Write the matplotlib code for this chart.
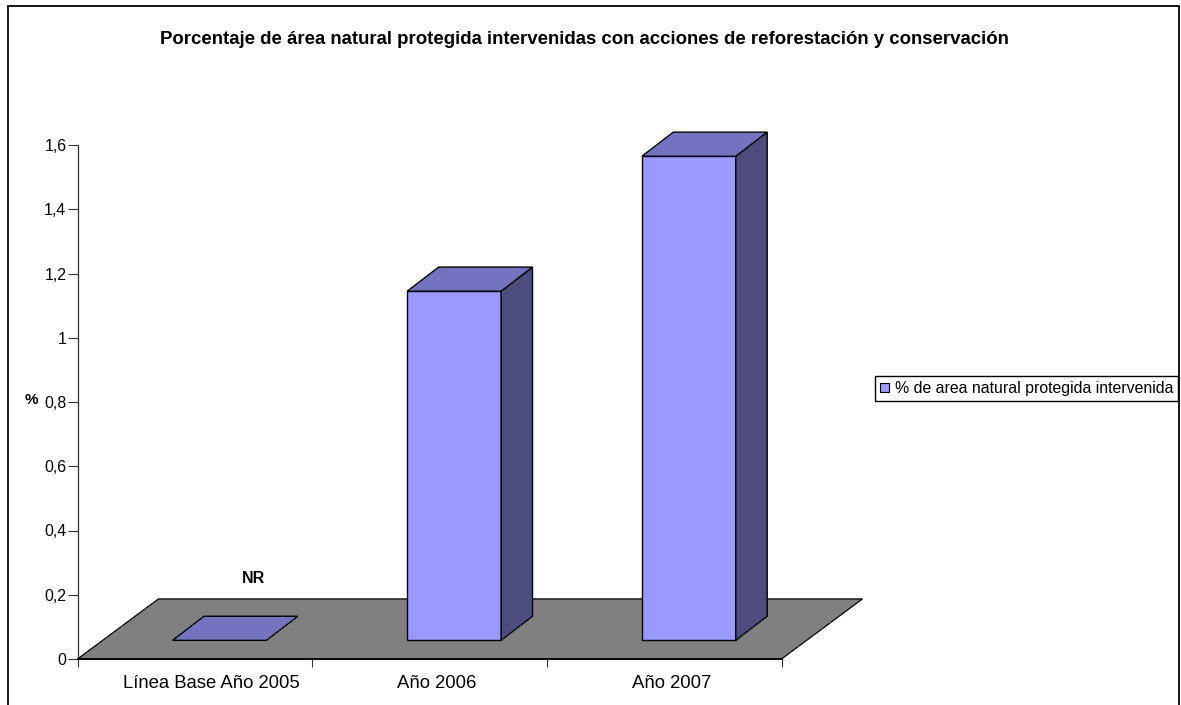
import matplotlib.pyplot as plt
from matplotlib.patches import Patch, Rectangle

plt.rcParams["font.family"] = ["Liberation Sans", "DejaVu Sans"]

categories = ["Línea Base Año 2005", "Año 2006", "Año 2007"]
values = [0, 1.087, 1.507]
bar_notes = ["NR", "", ""]
y_ticks = [0, 0.2, 0.4, 0.6, 0.8, 1, 1.2, 1.4, 1.6]
y_tick_labels = ["0", "0,2", "0,4", "0,6", "0,8", "1", "1,2", "1,4", "1,6"]
title = "Porcentaje de área natural protegida intervenidas con acciones de reforestación y conservación"
legend_label = "% de area natural protegida intervenida"

W, H = 1181, 705
FRONT = "#9999ff"
TOP = "#7373bf"
SIDE = "#4d4d80"
FLOOR = "#808080"

fig = plt.figure(figsize=(W / 100, H / 100), dpi=100)
ax = fig.add_axes([77.5 / W, (H - 659) / H, 704 / W, 514 / H])
ax.set_xlim(0, 3)
ax.set_ylim(0, 1.6)

# outer chart frame, runs off the bottom of the image
fig.add_artist(Rectangle((8 / W, -0.05), 1170.5 / W, 1.05 - 5.5 / H, transform=fig.transFigure,
                         fill=False, edgecolor="black", linewidth=1.3))

# fake 3D depth, in data units
floor_dx, floor_dy = 0.345, 0.187
depth_dx, depth_dy = 0.134, 0.075
bar_x0, bar_y0 = 0.405, 0.058
bar_w = 0.4

ax.fill([0, 3, 3 + floor_dx, floor_dx], [0, 0, floor_dy, floor_dy], facecolor=FLOOR,
        edgecolor="black", linewidth=0.9, clip_on=False, zorder=1)

for i, v in enumerate(values):
    x0 = i + bar_x0
    x1 = x0 + bar_w
    y0 = bar_y0
    y1 = bar_y0 + v
    if v > 0:
        ax.bar(x0, v, width=bar_w, bottom=y0, align="edge", color=FRONT, edgecolor="black",
               linewidth=1, clip_on=False, zorder=3)
        ax.fill([x1, x1 + depth_dx, x1 + depth_dx, x1], [y0, y0 + depth_dy, y1 + depth_dy, y1],
                facecolor=SIDE, edgecolor="black", linewidth=1, clip_on=False, zorder=3)
    ax.fill([x0, x1, x1 + depth_dx, x0 + depth_dx], [y1, y1, y1 + depth_dy, y1 + depth_dy],
            facecolor=TOP, edgecolor="black", linewidth=1, clip_on=False, zorder=3)
    if bar_notes[i]:
        ax.text(i + 0.752, 0.25, bar_notes[i], ha="center", va="center", fontsize=11.5,
                fontweight="bold", color="black")

for s in ["top", "right"]:
    ax.spines[s].set_visible(False)
ax.spines["left"].set_linewidth(0.9)
ax.spines["left"].set_color("#333333")
ax.spines["bottom"].set_linewidth(1.2)
ax.spines["bottom"].set_zorder(5)

ax.set_yticks(y_ticks)
ax.set_yticklabels(y_tick_labels)
ax.set_xticks([0, 1, 2, 3])
ax.set_xticklabels([])
ax.tick_params(axis="y", length=7, width=0.8, labelsize=11.5, pad=1, color="#333333")
ax.tick_params(axis="x", length=6, width=0.8, color="#333333")

# the long first label sits a bit further right of its slot than the other two
label_shift = [0.571, 0.53, 0.53]
for i, c in enumerate(categories):
    ax.text(i + label_shift[i], -0.0765, c, ha="center", va="center", fontsize=13.3, color="black",
            clip_on=False)

fig.text(31.5 / W, 1 - 400.5 / H, "%", ha="center", va="center", fontsize=11, fontweight="bold")
fig.text(584 / W, 1 - 39.5 / H, title, ha="center", va="center", fontsize=13.42, fontweight="bold")

handle = Patch(facecolor=FRONT, edgecolor="black", linewidth=0.8)
fig.legend([handle], [legend_label], loc="center left",
           bbox_to_anchor=(875 / W, 1 - 388.5 / H), frameon=True, fancybox=False, edgecolor="black",
           framealpha=1, fontsize=11.42, handlelength=0.55, handleheight=0.55, handletextpad=0.36,
           borderpad=0.33, borderaxespad=0, labelcolor="black")

fig.savefig("out.png", dpi=100)
